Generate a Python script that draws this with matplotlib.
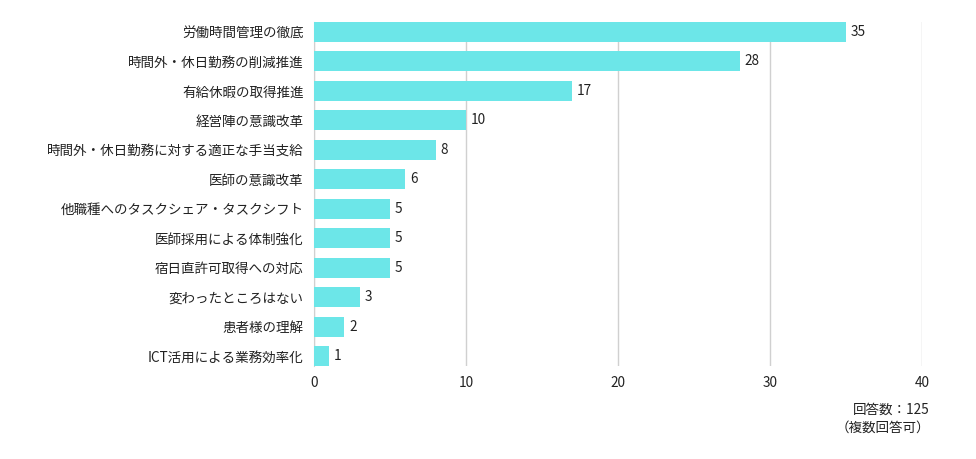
import matplotlib
matplotlib.use("Agg")
from matplotlib import pyplot as plt

plt.rcParams['font.family'] = ['Noto Sans CJK JP', 'DejaVu Sans']

labels = [
    "労働時間管理の徹底",
    "時間外・休日勤務の削減推進",
    "有給休暇の取得推進",
    "経営陣の意識改革",
    "時間外・休日勤務に対する適正な手当支給",
    "医師の意識改革",
    "他職種へのタスクシェア・タスクシフト",
    "医師採用による体制強化",
    "宿日直許可取得への対応",
    "変わったところはない",
    "患者様の理解",
    "ICT活用による業務効率化",
]
values = [35, 28, 17, 10, 8, 6, 5, 5, 5, 3, 2, 1]
xticks = [0, 10, 20, 30, 40]

fig = plt.figure(figsize=(9.76, 4.59), dpi=100)
ax = fig.add_axes([314 / 976, 1 - 366 / 459, (922 - 314) / 976, (366 - 22) / 459])

bar_h = 0.68
fs = 9.75
pos = list(range(len(labels)))
ax.barh(pos, values, height=bar_h, color='#6ce6e8', zorder=3)
for p, v in zip(pos, values):
    ax.text(v + 0.3, p, str(v), va='center', ha='left', fontsize=fs, color='#222222')

ax.set_ylim(len(labels) - 1 + bar_h / 2, -bar_h / 2)
ax.set_xlim(0, 40)
ax.set_yticks(pos)
ax.set_yticklabels(labels, fontsize=fs, color='#222222')
ax.set_xticks(xticks)
ax.set_xticklabels([str(t) for t in xticks], fontsize=fs, color='#222222')
ax.tick_params(axis='both', length=0)
ax.tick_params(axis='y', pad=7.5)
ax.tick_params(axis='x', pad=7.5)
ax.grid(axis='x', color='#d0d0d0', linewidth=1, zorder=0)
for s in ['top', 'right', 'bottom']:
    ax.spines[s].set_visible(False)
ax.spines['left'].set_color('#d0d0d0')

fig.text(930 / 976, 1 - 410 / 459, "回答数：125", ha='right', va='center', fontsize=fs, color='#222222')
fig.text(930 / 976, 1 - 428 / 459, "（複数回答可）", ha='right', va='center', fontsize=fs, color='#222222')

plt.savefig("out.png", dpi=100)
plt.close(fig)
